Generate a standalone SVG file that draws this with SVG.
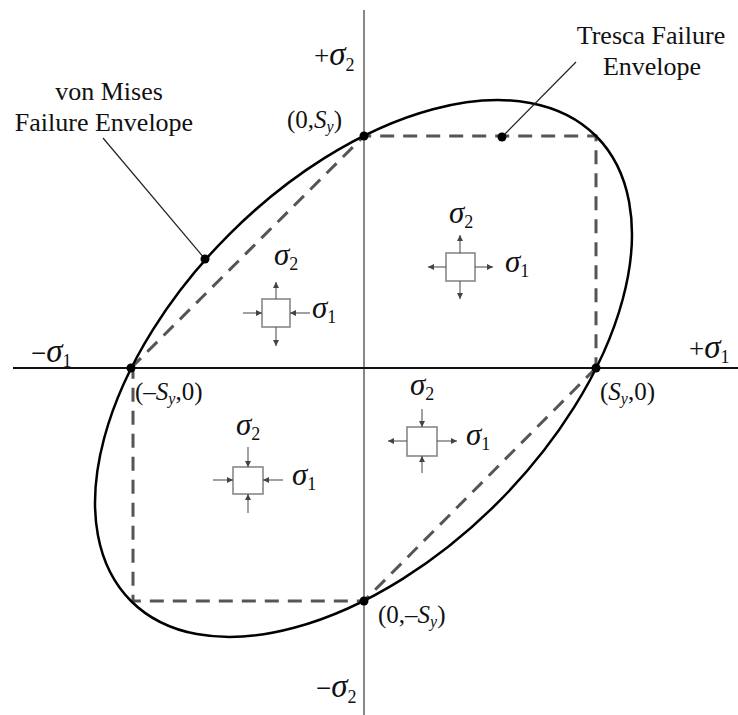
<svg xmlns="http://www.w3.org/2000/svg" width="738" height="715" viewBox="0 0 738 715">
<style>
.lbl{font-family:"Liberation Serif","Times New Roman",serif;font-size:26px;fill:#111}
.ax{font-family:"Liberation Serif","Times New Roman",serif;font-size:27px;fill:#111}
.co{font-family:"Liberation Serif","Times New Roman",serif;font-size:25px;fill:#111}
.ic{font-family:"Liberation Serif","Times New Roman",serif;font-size:25px;fill:#111}
.it{font-style:italic}
.sub{font-size:16px}
.sga{font-style:italic;font-size:33px}
.sgi{font-style:italic;font-size:31px}
.subs{font-size:18px}
.dash{fill:none;stroke:#555;stroke-width:3;stroke-dasharray:14 9}
.box{fill:#fff;stroke:#888;stroke-width:1.6}
.arr{stroke:#555;stroke-width:1.1;fill:none;marker-end:url(#ah)}
.dot{fill:#000}
.lead{stroke:#222;stroke-width:1.2;fill:none}
</style>
<defs>
<marker id="ah" markerUnits="userSpaceOnUse" markerWidth="6" markerHeight="6" refX="6" refY="3" orient="auto">
<path d="M0,0 L6,3 L0,6 z" fill="#444"/>
</marker>
</defs>
<rect width="738" height="715" fill="#fff"/>
<g id="connectors">
<line x1="364" y1="10" x2="364" y2="715" stroke="#888" stroke-width="2"/>
<line x1="13" y1="368" x2="738" y2="368" stroke="#111" stroke-width="2"/>
<path class="dash" d="M131,368 L364,136 L596,136 L596,368"/>
<path class="dash" d="M596,368 L364,601 L133,601 L133,368"/>
<ellipse cx="363.5" cy="368.5" rx="328.8" ry="189.8" transform="rotate(-45 363.5 368.5)" fill="none" stroke="#000" stroke-width="2.5"/>
<line class="lead" x1="103" y1="138" x2="205" y2="259"/>
<line class="lead" x1="576" y1="62" x2="502" y2="137"/>
</g>
<g id="points">
<circle class="dot" cx="364" cy="136" r="4.5"/>
<circle class="dot" cx="131" cy="368" r="4.5"/>
<circle class="dot" cx="596" cy="368" r="4.5"/>
<circle class="dot" cx="364" cy="601" r="4.5"/>
<circle class="dot" cx="205" cy="259" r="4.5"/>
<circle class="dot" cx="502" cy="137" r="4.5"/>
</g>
<g id="vonmises-label">
<text class="lbl" x="109" y="100" text-anchor="middle">von Mises</text>
<text class="lbl" x="104" y="131" text-anchor="middle">Failure Envelope</text>
</g>
<g id="tresca-label">
<text class="lbl" x="651" y="44" text-anchor="middle">Tresca Failure</text>
<text class="lbl" x="652" y="75" text-anchor="middle">Envelope</text>
</g>
<g id="axis-labels">
<text class="ax" x="314" y="65">+<tspan class="sga">σ</tspan><tspan class="subs" dy="6">2</tspan></text>
<text class="ax" x="316" y="697">−<tspan class="sga">σ</tspan><tspan class="subs" dy="6">2</tspan></text>
<text class="ax" x="31" y="362">−<tspan class="sga">σ</tspan><tspan class="subs" dy="5">1</tspan></text>
<text class="ax" x="689" y="358">+<tspan class="sga">σ</tspan><tspan class="subs" dy="5">1</tspan></text>
</g>
<g id="coord-labels">
<text class="co" x="287" y="128">(0,<tspan class="it">S</tspan><tspan class="it sub" dy="4">y</tspan><tspan dy="-4">)</tspan></text>
<text class="co" x="135" y="400">(–<tspan class="it">S</tspan><tspan class="it sub" dy="4">y</tspan><tspan dy="-4">,0)</tspan></text>
<text class="co" x="600" y="400">(<tspan class="it">S</tspan><tspan class="it sub" dy="4">y</tspan><tspan dy="-4">,0)</tspan></text>
<text class="co" x="378" y="623">(0,–<tspan class="it">S</tspan><tspan class="it sub" dy="4">y</tspan><tspan dy="-4">)</tspan></text>
</g>
<g id="element-q2">
<rect class="box" x="262" y="299" width="28" height="28"/>
<line class="arr" x1="276" y1="299" x2="276" y2="282"/>
<line class="arr" x1="276" y1="327" x2="276" y2="346"/>
<line class="arr" x1="243" y1="313" x2="262" y2="313"/>
<line class="arr" x1="310" y1="313" x2="290" y2="313"/>
<text class="ic" x="274" y="265"><tspan class="sgi">σ</tspan><tspan class="subs" dy="5">2</tspan></text>
<text class="ic" x="312" y="318"><tspan class="sgi">σ</tspan><tspan class="subs" dy="5">1</tspan></text>
</g>
<g id="element-q1">
<rect class="box" x="446" y="253" width="29" height="28"/>
<line class="arr" x1="460" y1="253" x2="460" y2="235"/>
<line class="arr" x1="460" y1="281" x2="460" y2="299"/>
<line class="arr" x1="446" y1="267" x2="428" y2="267"/>
<line class="arr" x1="475" y1="267" x2="493" y2="267"/>
<text class="ic" x="449" y="223"><tspan class="sgi">σ</tspan><tspan class="subs" dy="5">2</tspan></text>
<text class="ic" x="505" y="272"><tspan class="sgi">σ</tspan><tspan class="subs" dy="5">1</tspan></text>
</g>
<g id="element-q4">
<rect class="box" x="407" y="427" width="30" height="29"/>
<line class="arr" x1="407" y1="441" x2="388" y2="441"/>
<line class="arr" x1="437" y1="441" x2="457" y2="441"/>
<line class="arr" x1="422" y1="409" x2="422" y2="427"/>
<line class="arr" x1="422" y1="473" x2="422" y2="456"/>
<text class="ic" x="410" y="395"><tspan class="sgi">σ</tspan><tspan class="subs" dy="5">2</tspan></text>
<text class="ic" x="466" y="445"><tspan class="sgi">σ</tspan><tspan class="subs" dy="5">1</tspan></text>
</g>
<g id="element-q3">
<rect class="box" x="233" y="467" width="30" height="27"/>
<line class="arr" x1="213" y1="480" x2="233" y2="480"/>
<line class="arr" x1="283" y1="480" x2="263" y2="480"/>
<line class="arr" x1="248" y1="447" x2="248" y2="467"/>
<line class="arr" x1="248" y1="513" x2="248" y2="494"/>
<text class="ic" x="236" y="435"><tspan class="sgi">σ</tspan><tspan class="subs" dy="5">2</tspan></text>
<text class="ic" x="292" y="485"><tspan class="sgi">σ</tspan><tspan class="subs" dy="5">1</tspan></text>
</g>
</svg>
